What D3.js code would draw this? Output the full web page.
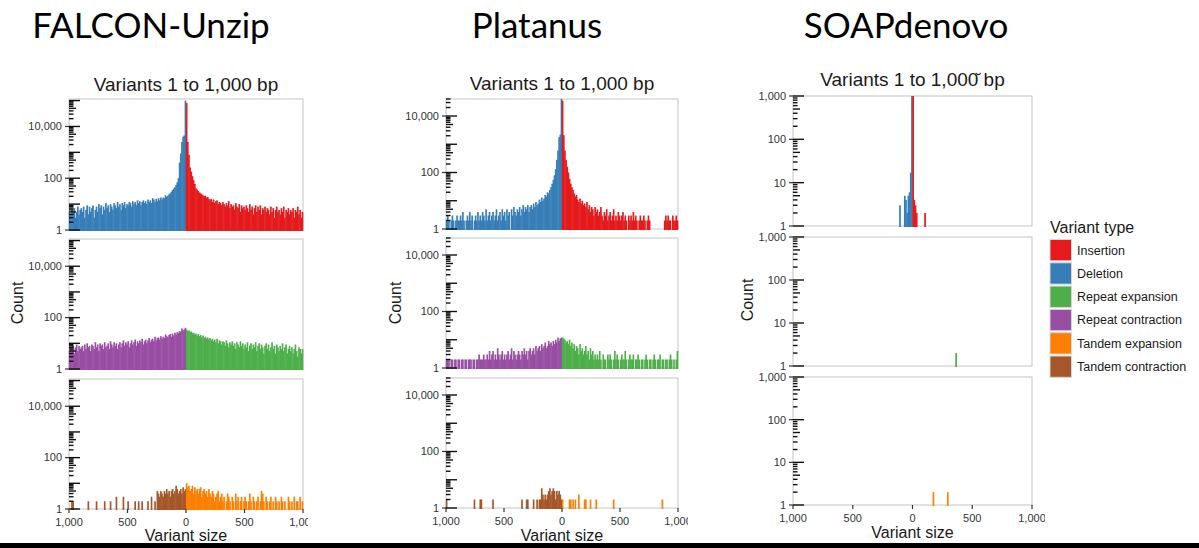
<!DOCTYPE html>
<html>
<head>
<meta charset="utf-8">
<script src="https://cdn.jsdelivr.net/npm/d3@7"></script>
<style>
  body { margin: 0; background: #fff; }
  svg { display: block; font-family: "Liberation Sans", Arial, sans-serif; }
</style>
</head>
<body>
<svg id="chart" width="1199" height="548"></svg>
<script>
// Histogram bins are 10 bp wide; index 0 = 1–10 bp (next to zero), index 99 = 991–1,000 bp.
const binWidth = 10;
const sizeTicks = [-1000, -500, 0, 500, 1000];
const sizeTickLabels = ["1,000", "500", "0", "500", "1,000"];
const variantTypes = ["Insertion", "Deletion", "Repeat expansion", "Repeat contraction", "Tandem expansion", "Tandem contraction"];
const typeColors = ["#e41a1c", "#377eb8", "#4daf4a", "#984ea3", "#ff7f00", "#a65628"];
const assemblers = ["FALCON-Unzip", "Platanus", "SOAPdenovo"];
const subtitles = ["Variants 1 to 1,000 bp", "Variants 1 to 1,000 bp", "Variants 1 to 1,000\u0306 bp"];

// ---- FALCON-Unzip ----
const falconDeletion = [
  100000, 4500, 4000, 2500, 900, 400, 100, 70, 55, 45,
  40, 35, 30, 26, 24, 21, 19, 22, 17, 18,
  15, 18, 14, 17, 13, 16, 12, 15, 17, 11,
  14, 12, 15, 10, 13, 11, 14, 12, 9, 13,
  11, 14, 9, 12, 10, 13, 8, 11, 12, 9,
  10, 7, 12, 9, 11, 6, 10, 8, 12, 7,
  9, 11, 6, 8, 10, 5, 9, 7, 11, 6,
  8, 4, 9, 7, 10, 5, 8, 6, 3, 9,
  7, 5, 8, 4, 9, 6, 3, 8, 5, 7,
  6, 4, 8, 5, 3, 7, 5, 6, 4, 5];
const falconInsertion = [
  80000, 2500, 800, 260, 180, 120, 84, 60, 41, 36,
  32, 28, 26, 24, 22, 20, 21, 18, 19, 16,
  14, 16, 12, 15, 11, 13, 14, 10, 12, 11,
  9, 12, 10, 8, 11, 9, 13, 7, 10, 8,
  9, 6, 11, 8, 7, 10, 5, 9, 7, 8,
  6, 9, 7, 5, 10, 6, 8, 4, 7, 9,
  5, 8, 6, 9, 4, 7, 6, 8, 5, 7,
  6, 4, 8, 5, 7, 3, 6, 8, 5, 6,
  4, 7, 5, 8, 3, 6, 5, 7, 4, 6,
  5, 7, 3, 6, 5, 8, 4, 6, 3, 5];
const falconRepeatContraction = [
  40, 35, 32, 38, 28, 30, 25, 27, 22, 26,
  20, 24, 18, 23, 21, 17, 19, 22, 16, 18,
  15, 19, 14, 17, 16, 13, 18, 12, 15, 14,
  11, 16, 13, 10, 14, 12, 9, 15, 11, 13,
  10, 12, 8, 14, 11, 9, 13, 10, 7, 12,
  9, 11, 8, 13, 10, 7, 11, 9, 6, 10,
  8, 11, 7, 9, 12, 6, 10, 8, 7, 11,
  6, 9, 8, 10, 5, 9, 7, 11, 6, 8,
  9, 5, 8, 7, 10, 6, 9, 5, 8, 7,
  6, 8, 5, 9, 7, 4, 8, 6, 7, 5];
const falconRepeatExpansion = [
  34, 30, 32, 27, 29, 25, 26, 22, 24, 20,
  23, 19, 21, 17, 20, 16, 18, 15, 17, 14,
  16, 13, 15, 12, 14, 11, 15, 10, 13, 12,
  9, 12, 11, 8, 13, 10, 7, 11, 9, 12,
  8, 10, 6, 11, 9, 7, 12, 8, 10, 6,
  9, 7, 11, 5, 8, 10, 6, 9, 7, 11,
  5, 8, 10, 6, 9, 7, 4, 8, 10, 6,
  9, 5, 7, 11, 6, 8, 4, 9, 7, 5,
  8, 6, 10, 5, 7, 9, 4, 6, 8, 5,
  7, 4, 6, 9, 5, 3, 7, 6, 4, 6];
const falconTandemContraction = [
  6, 5, 7, 4, 6, 5, 4, 6, 8, 5,
  4, 6, 5, 3, 5, 4, 6, 4, 5, 3,
  4, 5, 3, 4, 5, 0, 2, 0, 0, 3,
  0, 0, 2, 0, 0, 0, 0, 2, 0, 0,
  2, 0, 0, 2, 0, 0, 0, 0, 0, 2,
  0, 0, 0, 3, 0, 0, 0, 0, 0, 3,
  0, 0, 0, 0, 2, 0, 0, 0, 0, 2,
  0, 0, 0, 0, 0, 0, 2, 0, 0, 0,
  0, 0, 0, 2, 0, 0, 0, 0, 0, 0,
  0, 0, 0, 0, 0, 0, 2, 2];
const falconTandemExpansion = [
  10, 7, 8, 5, 6, 8, 4, 7, 5, 6,
  4, 6, 7, 3, 5, 6, 4, 5, 3, 6,
  4, 3, 5, 4, 2, 3, 4, 5, 2, 3,
  4, 2, 3, 0, 2, 4, 3, 2, 0, 3,
  2, 0, 4, 2, 3, 0, 2, 3, 0, 2,
  3, 2, 0, 2, 4, 2, 0, 3, 2, 0,
  2, 3, 0, 2, 5, 4, 2, 0, 3, 2,
  0, 2, 3, 0, 2, 0, 3, 2, 0, 2,
  0, 3, 2, 0, 2, 0, 0, 3, 2, 0,
  2, 0, 3, 0, 2, 2, 0, 3, 0, 2];

// ---- Platanus ----
const platanusDeletion = [
  40000, 2200, 1800, 600, 280, 130, 80, 55, 40, 30,
  24, 18, 20, 14, 16, 12, 10, 13, 9, 11,
  8, 7, 9, 6, 8, 5, 7, 6, 4, 7,
  5, 6, 4, 7, 5, 3, 6, 4, 5, 3,
  4, 6, 3, 5, 0, 4, 3, 5, 2, 4,
  3, 5, 2, 4, 3, 2, 5, 3, 2, 4,
  3, 2, 4, 3, 2, 5, 2, 3, 4, 2,
  3, 2, 4, 2, 3, 2, 0, 3, 2, 4,
  2, 3, 2, 0, 2, 4, 2, 3, 2, 2,
  3, 2, 0, 2, 3, 2, 0, 2, 3, 2];
const platanusInsertion = [
  35000, 2100, 600, 280, 160, 100, 60, 40, 30, 24,
  18, 14, 16, 11, 9, 12, 8, 10, 7, 8,
  6, 9, 5, 7, 4, 6, 5, 3, 6, 4,
  5, 3, 4, 6, 3, 2, 4, 3, 5, 2,
  3, 4, 2, 3, 5, 2, 3, 2, 4, 3,
  2, 3, 4, 2, 3, 2, 0, 3, 2, 3,
  2, 4, 2, 3, 2, 0, 2, 3, 2, 2,
  3, 2, 0, 2, 3, 2, 0, 0, 0, 0,
  0, 0, 0, 0, 0, 0, 0, 0, 2, 3,
  2, 3, 2, 2, 0, 3, 2, 2, 3, 2];
const platanusRepeatContraction = [
  12, 11, 9, 12, 8, 10, 7, 9, 6, 8,
  7, 9, 6, 5, 8, 6, 5, 7, 4, 6,
  5, 4, 6, 3, 5, 4, 3, 5, 4, 2,
  4, 3, 5, 3, 4, 2, 3, 4, 3, 2,
  3, 4, 2, 5, 3, 2, 4, 3, 2, 3,
  2, 4, 3, 2, 3, 5, 2, 3, 2, 4,
  3, 2, 4, 2, 3, 2, 2, 3, 2, 2,
  2, 3, 2, 2, 0, 2, 2, 0, 2, 2,
  2, 0, 2, 2, 0, 2, 2, 0, 2, 2,
  0, 2, 2, 0, 2, 2, 0, 2, 2, 2];
const platanusRepeatExpansion = [
  12, 11, 10, 8, 9, 7, 10, 6, 8, 5,
  7, 4, 6, 5, 3, 7, 4, 5, 3, 4,
  6, 3, 4, 2, 5, 3, 4, 2, 3, 2,
  3, 2, 4, 2, 0, 3, 2, 2, 0, 3,
  2, 3, 2, 0, 2, 4, 2, 3, 2, 0,
  2, 3, 2, 2, 4, 2, 0, 2, 3, 2,
  2, 3, 0, 2, 2, 3, 2, 0, 2, 2,
  0, 2, 3, 2, 0, 2, 2, 0, 2, 3,
  2, 0, 2, 2, 3, 0, 2, 2, 0, 2,
  2, 0, 2, 3, 2, 0, 2, 0, 2, 4];
const platanusTandemContraction = [
  2, 3, 4, 3, 4, 2, 4, 5, 4, 3,
  5, 4, 3, 2, 3, 2, 3, 5, 2, 2,
  0, 2, 0, 0, 2, 0, 0, 0, 0, 2,
  2, 0, 0, 0, 2, 0, 0, 0, 0, 0,
  0, 0, 0, 0, 0, 0, 0, 0, 0, 0,
  0, 0, 0, 0, 0, 0, 0, 0, 0, 2,
  0, 0, 0, 0, 0, 0, 0, 0, 0, 2,
  2, 0, 0, 0, 0, 2, 0, 0, 0, 0,
  0, 0, 0, 0, 0, 0, 0, 0, 0, 0,
  0, 0, 0, 0, 0, 0, 0, 0, 0, 2];
const platanusTandemExpansion = [
  2, 0, 0, 0, 0, 0, 2, 2, 0, 2,
  0, 2, 0, 0, 3, 0, 0, 0, 0, 2,
  2, 0, 0, 0, 2, 0, 0, 0, 0, 2,
  0, 0, 0, 0, 0, 0, 0, 0, 0, 0,
  0, 0, 0, 0, 2, 0, 0, 0, 0, 0,
  0, 0, 0, 0, 0, 0, 0, 0, 0, 0,
  0, 0, 0, 0, 0, 0, 0, 0, 0, 0,
  0, 0, 0, 0, 0, 0, 0, 0, 0, 0,
  0, 0, 0, 0, 0, 0, 2];

// ---- SOAPdenovo ----
const soapDeletion = [1000, 17, 6, 5, 2, 4, 5, 0, 0, 0, 3];
const soapInsertion = [1000, 4, 3, 2, 0, 0, 0, 0, 0, 0, 2];
const soapRepeatContraction = [];
const soapRepeatExpansion = [
  0, 0, 0, 0, 0, 0, 0, 0, 0, 0,
  0, 0, 0, 0, 0, 0, 0, 0, 0, 0,
  0, 0, 0, 0, 0, 0, 0, 0, 0, 0,
  0, 0, 0, 0, 0, 0, 2];
const soapTandemContraction = [];
const soapTandemExpansion = [
  0, 0, 0, 0, 0, 0, 0, 0, 0, 0,
  0, 0, 0, 0, 0, 0, 0, 2, 0, 0,
  0, 0, 0, 0, 0, 0, 0, 0, 0, 2];

// Each row: [left-hand series (shrinking), right-hand series (growing)], with type indices.
const rowTypes = [[1, 0], [3, 2], [5, 4]];
const seriesByAssembler = [
  [[falconDeletion, falconInsertion], [falconRepeatContraction, falconRepeatExpansion], [falconTandemContraction, falconTandemExpansion]],
  [[platanusDeletion, platanusInsertion], [platanusRepeatContraction, platanusRepeatExpansion], [platanusTandemContraction, platanusTandemExpansion]],
  [[soapDeletion, soapInsertion], [soapRepeatContraction, soapRepeatExpansion], [soapTandemContraction, soapTandemExpansion]]
];

// Layout of the three figure blocks
const blocks = [
  { titleX: 151, left: 69, right: 303, rows: [[99, 230], [239, 369], [379, 509]], yMax: 1.15e5,
    labelled: [1, 100, 10000], clip: [0, 308], countX: 17, countY: 303, subY: 91, sizeY: 541, tickLabelY: 526 },
  { titleX: 537, left: 446, right: 678, rows: [[99, 229], [238, 368], [378, 508]], yMax: 4e4,
    labelled: [1, 100, 10000], clip: [330, 688], countX: 395, countY: 303, subY: 90, sizeY: 541, tickLabelY: 525 },
  { titleX: 906, left: 793, right: 1032, rows: [[96, 226], [237, 366], [377, 505]], yMax: 1000,
    labelled: [1, 10, 100, 1000], clip: [700, 1045], countX: 747, countY: 300, subY: 86, sizeY: 538, tickLabelY: 522 }
];

const svg = d3.select("#chart");
svg.append("rect").attr("width", 1199).attr("height", 548).attr("fill", "#fff");
const defs = svg.append("defs");
const fmt = d3.format(",");

blocks.forEach((b, bi) => {
  const clipId = "clip" + bi;
  defs.append("clipPath").attr("id", clipId).append("rect")
    .attr("x", b.clip[0]).attr("y", 0).attr("width", b.clip[1] - b.clip[0]).attr("height", 548);
  const g = svg.append("g").attr("clip-path", `url(#${clipId})`);

  // Assembler name
  svg.append("text").attr("x", b.titleX).attr("y", 38).attr("text-anchor", "middle")
    .style("font-family", "Lato, 'Open Sans', sans-serif").style("font-size", "35px").attr("fill", "#000")
    .text(assemblers[bi]);

  g.append("text").attr("x", (b.left + b.right) / 2).attr("y", b.subY).attr("text-anchor", "middle")
    .style("font-size", "19px").attr("fill", "#1a1a1a").text(subtitles[bi]);

  const x = d3.scaleLinear().domain([-1000, 1000]).range([b.left, b.right]);

  b.rows.forEach((r, ri) => {
    const y = d3.scaleLog().domain([1, b.yMax]).range([r[1], r[0]]);
    const row = g.append("g");

    row.append("rect").attr("x", b.left).attr("y", r[0])
      .attr("width", b.right - b.left).attr("height", r[1] - r[0])
      .attr("fill", "none").attr("stroke", "#c4c4c4").attr("stroke-width", 1);

    seriesByAssembler[bi][ri].forEach((series, side) => {
      const sign = side === 0 ? -1 : 1;
      const color = typeColors[rowTypes[ri][side]];
      const bins = series.map((count, i) => ({ start: i * binWidth, end: (i + 1) * binWidth, count }))
        .filter(d => d.count > 1);
      row.selectAll(null).data(bins).join("rect")
        .attr("x", d => Math.min(x(sign * d.start), x(sign * d.end)) - 0.2)
        .attr("width", d => Math.abs(x(sign * d.end) - x(sign * d.start)) + 0.5)
        .attr("y", d => y(Math.min(d.count, b.yMax)))
        .attr("height", d => y(1) - y(Math.min(d.count, b.yMax)) + 1)
        .attr("fill", color);
    });

    // Logarithmic tick comb along the left edge
    const logTicks = y.ticks().filter(v => v <= b.yMax);
    row.selectAll(null).data(logTicks).join("line")
      .attr("x1", b.left)
      .attr("x2", v => {
        const m = Math.round(v / Math.pow(10, Math.floor(Math.log10(v) + 1e-9)));
        return b.left + (m === 1 ? 11 : m === 5 ? 7 : 4.5);
      })
      .attr("y1", v => y(v)).attr("y2", v => y(v))
      .attr("stroke", "#111").attr("stroke-width", 1.4);

    // Labelled axis ticks
    row.selectAll(null).data(b.labelled).join("line")
      .attr("x1", b.left - 4).attr("x2", b.left)
      .attr("y1", v => y(v)).attr("y2", v => y(v))
      .attr("stroke", "#333").attr("stroke-width", 1.2);
    row.selectAll(null).data(b.labelled).join("text")
      .attr("x", b.left - 7).attr("y", v => y(v)).attr("dy", "0.35em")
      .attr("text-anchor", "end").style("font-size", "11px").attr("fill", "#333")
      .text(v => fmt(v));

    if (ri === 2) {
      row.selectAll(null).data(sizeTicks).join("line")
        .attr("x1", v => x(v)).attr("x2", v => x(v))
        .attr("y1", r[1]).attr("y2", r[1] + 4)
        .attr("stroke", "#333").attr("stroke-width", 1.2);
      row.selectAll(null).data(sizeTicks).join("text")
        .attr("x", v => x(v)).attr("y", b.tickLabelY).attr("text-anchor", "middle")
        .style("font-size", "11px").attr("fill", "#333")
        .text((v, i) => sizeTickLabels[i]);
    }
  });

  g.append("text").attr("transform", `translate(${b.countX},${b.countY}) rotate(-90)`)
    .attr("text-anchor", "middle").attr("dy", "0.35em")
    .style("font-size", "16px").attr("fill", "#1a1a1a").text("Count");

  g.append("text").attr("x", (b.left + b.right) / 2).attr("y", b.sizeY).attr("text-anchor", "middle")
    .style("font-size", "16px").attr("fill", "#1a1a1a").text("Variant size");
});

// Legend
const legend = svg.append("g");
legend.append("text").attr("x", 1050).attr("y", 233).style("font-size", "16px").attr("fill", "#1a1a1a")
  .text("Variant type");
const legendRows = legend.selectAll(null).data(variantTypes).join("g")
  .attr("transform", (d, i) => `translate(1050,${239.5 + i * 23.3})`);
legendRows.append("rect").attr("width", 21.5).attr("height", 21.3)
  .attr("fill", (d, i) => typeColors[i]).attr("stroke", "#d6d6d6").attr("stroke-width", 1);
legendRows.append("text").attr("x", 27).attr("y", 10.7).attr("dy", "0.35em")
  .style("font-size", "12.5px").attr("fill", "#1a1a1a").text(d => d);

// Bottom rule
svg.append("rect").attr("x", 0).attr("y", 543).attr("width", 1199).attr("height", 5).attr("fill", "#000");
</script>
</body>
</html>
